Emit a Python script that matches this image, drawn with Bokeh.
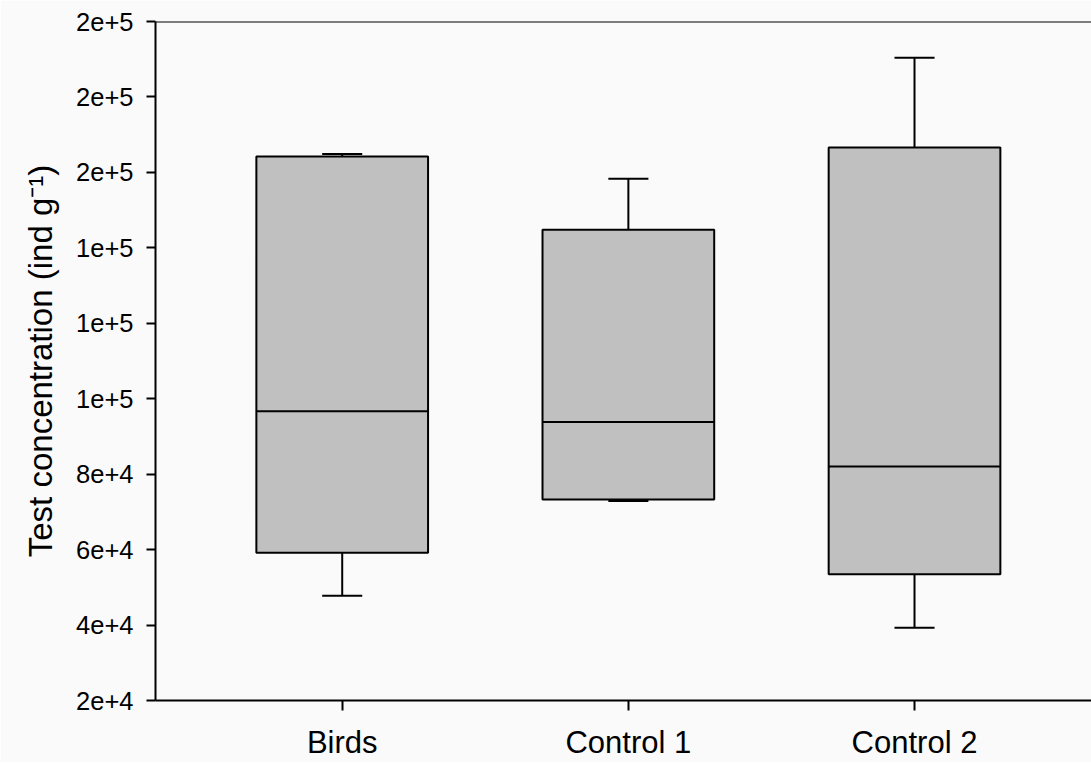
from bokeh.plotting import figure
from bokeh.models import Range1d, FixedTicker, ColumnDataSource, Span
from bokeh.embed import file_html
from bokeh.resources import INLINE

categories = ["Birds", "Control 1", "Control 2"]
whisker_low = [47800, 72900, 39300]
q1 = [59200, 73300, 53500]
median = [96700, 93800, 82000]
q3 = [164200, 144800, 166600]
whisker_high = [164900, 158300, 190400]

y_ticks = [20000, 40000, 60000, 80000, 100000, 120000, 140000, 160000, 180000, 200000]
y_tick_labels = ["2e+4", "4e+4", "6e+4", "8e+4", "1e+5", "1e+5", "1e+5", "2e+5", "2e+5", "2e+5"]

xpos = [i + 1 for i in range(len(categories))]
box_w = 0.6
cap_w = 0.14

src = ColumnDataSource(dict(
    x=xpos,
    left=[x - box_w / 2 for x in xpos],
    right=[x + box_w / 2 for x in xpos],
    cl=[x - cap_w / 2 for x in xpos],
    cr=[x + cap_w / 2 for x in xpos],
    lo=whisker_low, q1=q1, med=median, q3=q3, hi=whisker_high,
))

FONT = "Liberation Sans"

p = figure(width=1091, height=762, output_backend="svg", toolbar_location=None,
           x_range=Range1d(0.3475, 3.6185), y_range=Range1d(20000, 200000),
           min_border_left=155, min_border_top=21, min_border_right=0, min_border_bottom=62)

p.background_fill_color = "#fafafa"
p.border_fill_color = "#fafafa"
p.outline_line_color = None
p.xgrid.visible = False
p.ygrid.visible = False

# whiskers
p.segment(x0="x", y0="q3", x1="x", y1="hi", source=src, line_color="black", line_width=2)
p.segment(x0="x", y0="lo", x1="x", y1="q1", source=src, line_color="black", line_width=2)
p.segment(x0="cl", y0="hi", x1="cr", y1="hi", source=src, line_color="black", line_width=2)
p.segment(x0="cl", y0="lo", x1="cr", y1="lo", source=src, line_color="black", line_width=2)

# boxes
p.quad(left="left", right="right", bottom="q1", top="q3", source=src,
       fill_color="#c0c0c0", line_color="black", line_width=2)
# medians
p.segment(x0="left", y0="med", x1="right", y1="med", source=src, line_color="black", line_width=2)

# top border line
p.add_layout(Span(location=200000, dimension="width", line_color="black", line_width=2))

p.xaxis.ticker = FixedTicker(ticks=xpos)
p.xaxis.major_label_overrides = {x: c for x, c in zip(xpos, categories)}
p.yaxis.ticker = FixedTicker(ticks=y_ticks)
p.yaxis.major_label_overrides = {t: l for t, l in zip(y_ticks, y_tick_labels)}

for ax in (p.xaxis, p.yaxis):
    ax.axis_line_color = "black"
    ax.axis_line_width = 2
    ax.major_tick_line_color = "black"
    ax.major_tick_line_width = 2
    ax.major_tick_in = 0
    ax.minor_tick_line_color = None
    ax.major_label_text_font = FONT
    ax.major_label_text_color = "black"

p.xaxis.major_tick_out = 10
p.xaxis.major_label_text_font_size = "31px"
p.xaxis.major_label_standoff = 14
p.yaxis.major_tick_out = 9
p.yaxis.major_label_text_font_size = "25.5px"
p.yaxis.major_label_standoff = 13

p.yaxis.axis_label = "Test concentration (ind g\u207b\u00b9)"
p.yaxis.axis_label_text_font = FONT
p.yaxis.axis_label_text_font_size = "33px"
p.yaxis.axis_label_text_font_style = "normal"
p.yaxis.axis_label_text_color = "black"
p.yaxis.axis_label_standoff = 14

open("out.html", "w").write(file_html(p, INLINE))
